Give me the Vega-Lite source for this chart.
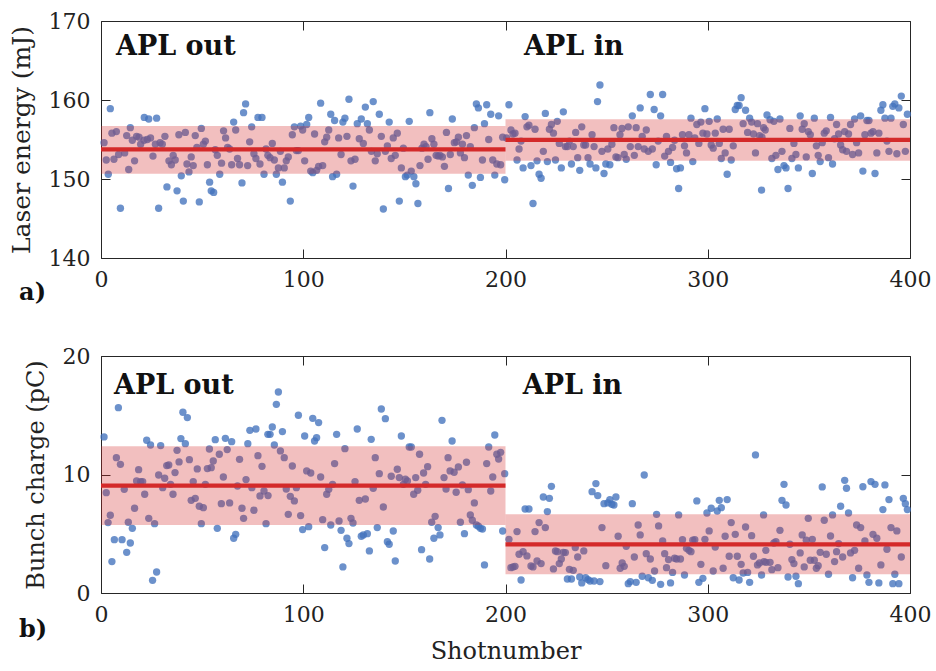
{
"$schema":"https://vega.github.io/schema/vega-lite/v6.json",
"background":"white",
"padding":{"left":8,"top":9,"right":5,"bottom":3},
"config":{
 "font":"DejaVu Serif",
 "view":{"stroke":"#262626","strokeWidth":1},
 "axis":{"grid":false,"domain":false,"tickSize":-9,"tickColor":"#262626","tickWidth":1,"labelFontSize":22,"labelColor":"#222222","titleFontSize":24,"titleFontWeight":"normal","titleColor":"#222222","labelPadding":20,"labelFlush":false,"labelOverlap":false,"zindex":1},
 "axisY":{"titlePadding":14},
 "axisX":{"titlePadding":14}
},
"datasets":{
 "energy":[
{"shot":1.5,"mJ":154.6},{"shot":2.6,"mJ":152.4},{"shot":3.6,"mJ":150.6},{"shot":4.6,"mJ":158.9},{"shot":5.4,"mJ":155.8},{"shot":6.4,"mJ":152.5},{"shot":7.6,"mJ":156.0},{"shot":8.7,"mJ":153.1},{"shot":9.6,"mJ":146.3},{"shot":11.7,"mJ":153.3},{"shot":12.7,"mJ":155.5},{"shot":13.7,"mJ":151.2},{"shot":14.5,"mJ":156.5},{"shot":15.5,"mJ":154.9},{"shot":16.6,"mJ":152.3},{"shot":17.6,"mJ":155.4},{"shot":18.8,"mJ":155.3},{"shot":19.6,"mJ":154.4},{"shot":21.3,"mJ":154.9},{"shot":21.4,"mJ":157.8},{"shot":22.9,"mJ":155.0},{"shot":23.6,"mJ":157.6},{"shot":24.5,"mJ":155.2},{"shot":25.7,"mJ":152.9},{"shot":26.9,"mJ":154.4},{"shot":27.5,"mJ":157.7},{"shot":28.5,"mJ":146.3},{"shot":29.2,"mJ":154.6},{"shot":30.3,"mJ":154.4},{"shot":31.6,"mJ":155.4},{"shot":32.6,"mJ":149.0},{"shot":33.6,"mJ":152.3},{"shot":34.8,"mJ":151.8},{"shot":35.7,"mJ":153.0},{"shot":36.7,"mJ":152.4},{"shot":37.6,"mJ":148.5},{"shot":38.5,"mJ":155.6},{"shot":39.7,"mJ":150.4},{"shot":40.7,"mJ":147.2},{"shot":41.7,"mJ":155.9},{"shot":42.5,"mJ":151.9},{"shot":43.5,"mJ":150.9},{"shot":44.6,"mJ":152.8},{"shot":45.6,"mJ":151.7},{"shot":46.6,"mJ":155.5},{"shot":47.4,"mJ":154.0},{"shot":48.6,"mJ":147.1},{"shot":49.6,"mJ":156.4},{"shot":50.6,"mJ":154.4},{"shot":51.6,"mJ":154.8},{"shot":52.6,"mJ":151.8},{"shot":53.7,"mJ":149.6},{"shot":54.5,"mJ":148.5},{"shot":55.7,"mJ":148.3},{"shot":56.5,"mJ":153.7},{"shot":57.5,"mJ":153.0},{"shot":58.7,"mJ":150.6},{"shot":59.6,"mJ":152.0},{"shot":60.6,"mJ":156.1},{"shot":61.6,"mJ":155.2},{"shot":62.6,"mJ":154.0},{"shot":63.6,"mJ":153.8},{"shot":64.6,"mJ":151.8},{"shot":65.6,"mJ":157.2},{"shot":66.6,"mJ":156.2},{"shot":67.5,"mJ":152.6},{"shot":68.5,"mJ":151.8},{"shot":69.7,"mJ":149.5},{"shot":70.5,"mJ":158.4},{"shot":71.5,"mJ":159.5},{"shot":72.5,"mJ":151.7},{"shot":73.5,"mJ":154.7},{"shot":74.5,"mJ":156.6},{"shot":75.6,"mJ":153.2},{"shot":76.6,"mJ":152.6},{"shot":77.6,"mJ":157.8},{"shot":78.6,"mJ":151.9},{"shot":79.6,"mJ":157.8},{"shot":80.6,"mJ":150.6},{"shot":81.6,"mJ":153.8},{"shot":82.5,"mJ":153.0},
{"shot":83.6,"mJ":152.7},{"shot":84.7,"mJ":154.5},{"shot":85.7,"mJ":152.4},{"shot":86.7,"mJ":150.6},{"shot":87.7,"mJ":151.4},{"shot":88.7,"mJ":153.5},{"shot":89.7,"mJ":149.6},{"shot":90.6,"mJ":151.4},{"shot":91.6,"mJ":152.3},{"shot":92.6,"mJ":152.8},{"shot":93.6,"mJ":147.2},{"shot":94.6,"mJ":155.6},{"shot":95.6,"mJ":156.6},{"shot":96.6,"mJ":153.6},{"shot":97.6,"mJ":153.6},{"shot":98.7,"mJ":156.7},{"shot":99.7,"mJ":156.2},{"shot":100.7,"mJ":152.3},{"shot":101.7,"mJ":156.9},{"shot":102.7,"mJ":157.8},{"shot":103.7,"mJ":151.0},{"shot":104.7,"mJ":150.8},{"shot":105.6,"mJ":155.7},{"shot":106.6,"mJ":151.1},{"shot":107.6,"mJ":151.6},{"shot":108.6,"mJ":159.6},{"shot":109.6,"mJ":151.7},{"shot":110.6,"mJ":154.7},{"shot":111.6,"mJ":155.3},{"shot":112.6,"mJ":156.2},{"shot":113.6,"mJ":158.2},{"shot":114.5,"mJ":150.3},{"shot":115.5,"mJ":157.4},{"shot":116.5,"mJ":150.6},{"shot":117.5,"mJ":155.2},{"shot":118.7,"mJ":153.1},{"shot":119.6,"mJ":157.2},{"shot":120.6,"mJ":157.7},{"shot":121.6,"mJ":155.4},{"shot":122.6,"mJ":160.1},{"shot":123.6,"mJ":152.3},{"shot":124.6,"mJ":149.1},{"shot":125.6,"mJ":152.5},{"shot":126.7,"mJ":157.0},{"shot":127.7,"mJ":155.1},{"shot":128.7,"mJ":157.6},{"shot":129.7,"mJ":154.5},{"shot":130.7,"mJ":159.1},{"shot":131.7,"mJ":157.0},{"shot":132.7,"mJ":156.2},{"shot":133.7,"mJ":153.5},{"shot":134.6,"mJ":159.8},{"shot":135.6,"mJ":152.3},{"shot":136.6,"mJ":153.2},{"shot":137.6,"mJ":158.2},{"shot":138.6,"mJ":155.4},{"shot":139.6,"mJ":146.2},{"shot":140.6,"mJ":153.5},{"shot":141.6,"mJ":154.2},{"shot":142.5,"mJ":157.2},{"shot":143.5,"mJ":152.6},{"shot":144.5,"mJ":155.2},{"shot":145.5,"mJ":153.0},{"shot":146.5,"mJ":155.8},{"shot":147.5,"mJ":147.2},{"shot":148.5,"mJ":151.4},{"shot":149.5,"mJ":153.9},{"shot":150.5,"mJ":150.3},{"shot":151.4,"mJ":150.5},{"shot":152.4,"mJ":157.3},{"shot":153.4,"mJ":151.0},{"shot":154.7,"mJ":150.3},{"shot":155.7,"mJ":149.4},{"shot":156.7,"mJ":146.9},{"shot":157.7,"mJ":151.7},{"shot":158.7,"mJ":153.9},{"shot":159.7,"mJ":154.4},{"shot":160.7,"mJ":154.1},{"shot":161.7,"mJ":152.5},{"shot":162.6,"mJ":158.4},{"shot":163.6,"mJ":155.1},
{"shot":164.6,"mJ":154.4},{"shot":165.7,"mJ":153.0},{"shot":166.7,"mJ":152.9},{"shot":167.6,"mJ":153.0},{"shot":168.8,"mJ":152.8},{"shot":169.8,"mJ":151.6},{"shot":170.8,"mJ":155.9},{"shot":171.8,"mJ":148.8},{"shot":172.7,"mJ":153.1},{"shot":173.7,"mJ":157.6},{"shot":174.7,"mJ":154.6},{"shot":175.7,"mJ":154.7},{"shot":176.7,"mJ":155.3},{"shot":177.7,"mJ":153.3},{"shot":178.7,"mJ":154.4},{"shot":179.7,"mJ":152.7},{"shot":180.7,"mJ":155.5},{"shot":181.6,"mJ":150.5},{"shot":182.6,"mJ":154.1},{"shot":183.6,"mJ":149.2},{"shot":184.6,"mJ":156.5},{"shot":185.6,"mJ":159.5},{"shot":186.6,"mJ":159.0},{"shot":187.6,"mJ":150.2},{"shot":188.6,"mJ":152.4},{"shot":189.6,"mJ":157.0},{"shot":190.7,"mJ":159.4},{"shot":191.7,"mJ":155.0},{"shot":192.7,"mJ":158.2},{"shot":193.7,"mJ":152.4},{"shot":194.7,"mJ":150.5},{"shot":195.7,"mJ":151.9},{"shot":196.6,"mJ":158.0},{"shot":197.6,"mJ":151.8},{"shot":198.6,"mJ":155.3},{"shot":199.6,"mJ":149.9},
{"shot":200.6,"mJ":155.2},{"shot":201.7,"mJ":159.4},{"shot":202.7,"mJ":156.2},{"shot":203.7,"mJ":155.7},{"shot":204.7,"mJ":155.8},{"shot":205.7,"mJ":152.4},{"shot":206.7,"mJ":153.8},{"shot":207.7,"mJ":154.8},{"shot":208.7,"mJ":151.4},{"shot":209.7,"mJ":157.9},{"shot":210.6,"mJ":156.6},{"shot":211.6,"mJ":156.8},{"shot":212.6,"mJ":151.7},{"shot":213.6,"mJ":146.9},{"shot":214.6,"mJ":156.3},{"shot":215.6,"mJ":152.3},{"shot":216.6,"mJ":150.6},{"shot":217.6,"mJ":150.1},{"shot":218.7,"mJ":153.5},{"shot":219.7,"mJ":158.3},{"shot":220.7,"mJ":152.2},{"shot":221.7,"mJ":156.3},{"shot":222.7,"mJ":156.9},{"shot":223.7,"mJ":155.8},{"shot":224.7,"mJ":152.4},{"shot":225.6,"mJ":157.3},{"shot":226.6,"mJ":154.5},{"shot":227.6,"mJ":151.4},{"shot":228.6,"mJ":158.5},{"shot":229.6,"mJ":154.1},{"shot":230.6,"mJ":154.1},{"shot":231.6,"mJ":154.8},{"shot":232.6,"mJ":151.9},{"shot":233.5,"mJ":154.1},{"shot":234.7,"mJ":155.9},{"shot":235.7,"mJ":152.7},{"shot":236.7,"mJ":151.1},{"shot":237.7,"mJ":156.6},{"shot":238.7,"mJ":154.3},{"shot":239.6,"mJ":154.3},{"shot":240.8,"mJ":152.7},{"shot":241.8,"mJ":151.9},{"shot":242.8,"mJ":155.6},{"shot":243.8,"mJ":154.1},{"shot":244.7,"mJ":151.4},{"shot":245.5,"mJ":159.8},{"shot":246.7,"mJ":161.9},{"shot":247.7,"mJ":153.5},{"shot":248.7,"mJ":150.7},{"shot":249.6,"mJ":151.9},{"shot":250.6,"mJ":153.8},{"shot":251.6,"mJ":151.8},{"shot":252.6,"mJ":154.4},{"shot":253.6,"mJ":156.5},{"shot":254.6,"mJ":152.8},{"shot":255.6,"mJ":152.7},{"shot":256.6,"mJ":155.6},{"shot":257.6,"mJ":156.4},{"shot":258.7,"mJ":153.1},{"shot":259.7,"mJ":152.5},{"shot":260.7,"mJ":156.6},{"shot":261.7,"mJ":154.1},{"shot":262.7,"mJ":158.0},{"shot":263.7,"mJ":153.0},{"shot":264.6,"mJ":156.5},{"shot":265.6,"mJ":154.1},{"shot":266.6,"mJ":159.0},{"shot":267.6,"mJ":155.4},{"shot":268.6,"mJ":153.8},{"shot":269.6,"mJ":156.2},{"shot":270.6,"mJ":153.5},{"shot":271.6,"mJ":160.7},{"shot":272.6,"mJ":153.8},{"shot":273.5,"mJ":158.8},{"shot":274.5,"mJ":151.8},{"shot":275.5,"mJ":154.8},{"shot":276.7,"mJ":158.0},{"shot":277.7,"mJ":160.7},{"shot":278.7,"mJ":152.9},{"shot":279.6,"mJ":155.4},{"shot":280.6,"mJ":153.5},{"shot":281.6,"mJ":152.1},{"shot":282.6,"mJ":154.0},{"shot":283.6,"mJ":154.9},{"shot":284.6,"mJ":151.3},{"shot":285.6,"mJ":148.8},{"shot":286.5,"mJ":151.4},{"shot":287.5,"mJ":155.6},{"shot":288.5,"mJ":154.2},{"shot":289.5,"mJ":153.3},{"shot":290.7,"mJ":155.6},{"shot":291.7,"mJ":157.7},{"shot":292.6,"mJ":152.2},{"shot":293.6,"mJ":155.2},{"shot":294.6,"mJ":156.9},{"shot":295.6,"mJ":154.5},{"shot":296.6,"mJ":157.2},{"shot":297.6,"mJ":155.8},{"shot":298.6,"mJ":158.9},{"shot":299.6,"mJ":155.7},{"shot":300.7,"mJ":157.3},{"shot":301.7,"mJ":154.3},{"shot":302.7,"mJ":153.9},{"shot":303.7,"mJ":155.8},{"shot":304.7,"mJ":157.6},{"shot":305.7,"mJ":154.5},{"shot":306.7,"mJ":152.6},{"shot":307.6,"mJ":156.3},{"shot":308.6,"mJ":153.3},{"shot":309.6,"mJ":150.6},{"shot":310.6,"mJ":156.3},{"shot":311.6,"mJ":152.4},{"shot":312.6,"mJ":154.2},{"shot":313.6,"mJ":158.8},{"shot":314.6,"mJ":159.3},{"shot":315.5,"mJ":159.3},{"shot":316.5,"mJ":160.3},{"shot":317.5,"mJ":157.0},{"shot":318.7,"mJ":158.7},{"shot":319.7,"mJ":155.9},{"shot":320.7,"mJ":157.7},{"shot":321.7,"mJ":157.2},{"shot":322.6,"mJ":155.7},{"shot":323.6,"mJ":153.3},{"shot":324.6,"mJ":157.0},{"shot":325.6,"mJ":155.5},{"shot":326.6,"mJ":148.6},{"shot":326.8,"mJ":155.3},{"shot":327.6,"mJ":156.5},{"shot":328.4,"mJ":156.2},{"shot":329.3,"mJ":158.1},
{"shot":330.8,"mJ":157.5},{"shot":331.7,"mJ":152.6},{"shot":332.7,"mJ":157.3},{"shot":333.7,"mJ":153.0},{"shot":334.7,"mJ":151.2},{"shot":335.7,"mJ":157.6},{"shot":336.7,"mJ":153.5},{"shot":337.7,"mJ":151.7},{"shot":338.7,"mJ":151.4},{"shot":339.7,"mJ":148.8},{"shot":340.6,"mJ":156.4},{"shot":341.6,"mJ":152.6},{"shot":342.6,"mJ":154.5},{"shot":343.6,"mJ":153.1},{"shot":344.8,"mJ":151.4},{"shot":345.7,"mJ":158.0},{"shot":346.7,"mJ":156.3},{"shot":347.7,"mJ":157.0},{"shot":348.7,"mJ":152.8},{"shot":349.7,"mJ":156.0},{"shot":350.7,"mJ":155.6},{"shot":351.7,"mJ":150.7},{"shot":352.7,"mJ":157.7},{"shot":353.7,"mJ":154.2},{"shot":354.6,"mJ":153.0},{"shot":355.6,"mJ":152.2},{"shot":356.6,"mJ":154.6},{"shot":357.6,"mJ":155.8},{"shot":358.6,"mJ":156.1},{"shot":359.7,"mJ":152.7},{"shot":360.7,"mJ":157.8},{"shot":361.7,"mJ":151.9},{"shot":362.7,"mJ":155.1},{"shot":363.7,"mJ":156.9},{"shot":364.7,"mJ":155.7},{"shot":365.7,"mJ":154.3},{"shot":366.7,"mJ":153.7},{"shot":367.7,"mJ":156.0},{"shot":368.6,"mJ":153.5},{"shot":369.6,"mJ":155.7},{"shot":370.6,"mJ":156.9},{"shot":371.6,"mJ":153.1},{"shot":372.6,"mJ":157.6},{"shot":373.6,"mJ":154.6},{"shot":374.6,"mJ":153.3},{"shot":375.6,"mJ":158.0},{"shot":376.7,"mJ":151.0},{"shot":377.7,"mJ":155.6},{"shot":378.7,"mJ":157.4},{"shot":379.7,"mJ":157.4},{"shot":380.7,"mJ":155.8},{"shot":381.7,"mJ":156.0},{"shot":382.7,"mJ":150.7},{"shot":383.6,"mJ":153.3},{"shot":384.6,"mJ":155.8},{"shot":385.6,"mJ":158.7},{"shot":386.6,"mJ":159.4},{"shot":387.6,"mJ":157.7},{"shot":388.6,"mJ":154.8},{"shot":389.6,"mJ":153.5},{"shot":390.6,"mJ":157.7},{"shot":391.5,"mJ":159.2},{"shot":392.5,"mJ":159.5},{"shot":393.5,"mJ":153.2},{"shot":394.5,"mJ":159.0},{"shot":395.7,"mJ":160.5},{"shot":396.7,"mJ":156.9},{"shot":397.7,"mJ":153.5},{"shot":398.7,"mJ":158.2}
 ],
 "charge":[
{"shot":1.5,"pC":13.17},{"shot":2.6,"pC":8.47},{"shot":3.5,"pC":5.94},{"shot":4.6,"pC":6.56},{"shot":5.4,"pC":2.65},{"shot":6.6,"pC":4.5},{"shot":7.6,"pC":11.42},{"shot":8.6,"pC":15.64},{"shot":9.6,"pC":10.86},{"shot":10.4,"pC":4.5},{"shot":11.5,"pC":8.75},{"shot":12.7,"pC":3.43},{"shot":13.5,"pC":5.97},{"shot":14.5,"pC":4.22},{"shot":15.5,"pC":5.46},{"shot":16.6,"pC":7.15},{"shot":17.6,"pC":9.46},{"shot":18.6,"pC":10.41},{"shot":19.6,"pC":9.4},{"shot":20.6,"pC":9.4},{"shot":21.6,"pC":8.33},{"shot":22.6,"pC":12.89},{"shot":23.6,"pC":6.3},{"shot":24.5,"pC":12.49},{"shot":25.5,"pC":1.07},{"shot":26.5,"pC":5.85},{"shot":27.5,"pC":1.77},{"shot":28.5,"pC":9.96},{"shot":29.5,"pC":12.44},{"shot":30.5,"pC":8.89},{"shot":31.5,"pC":9.68},{"shot":32.5,"pC":10.75},{"shot":33.5,"pC":10.8},{"shot":34.4,"pC":9.17},{"shot":35.6,"pC":8.33},{"shot":36.6,"pC":10.16},{"shot":37.6,"pC":12.04},{"shot":38.6,"pC":11.06},{"shot":39.5,"pC":13.03},{"shot":40.5,"pC":15.25},{"shot":41.7,"pC":12.6},{"shot":42.7,"pC":14.8},{"shot":43.7,"pC":11.25},{"shot":44.6,"pC":7.82},{"shot":45.6,"pC":9.4},{"shot":46.6,"pC":7.99},{"shot":47.6,"pC":10.47},{"shot":48.6,"pC":7.32},{"shot":49.6,"pC":5.85},{"shot":50.6,"pC":7.2},{"shot":51.6,"pC":9.17},{"shot":52.6,"pC":10.5},{"shot":53.6,"pC":12.15},{"shot":54.5,"pC":10.58},{"shot":55.5,"pC":11.14},{"shot":56.5,"pC":12.94},{"shot":57.5,"pC":5.46},{"shot":58.5,"pC":11.71},{"shot":59.5,"pC":7.54},{"shot":60.5,"pC":9.79},{"shot":61.5,"pC":13.05},{"shot":62.4,"pC":12.1},{"shot":63.6,"pC":7.6},{"shot":64.6,"pC":12.77},{"shot":65.6,"pC":4.62},{"shot":66.6,"pC":4.95},{"shot":67.5,"pC":9.03},{"shot":68.5,"pC":11.28},{"shot":69.7,"pC":7.15},{"shot":70.5,"pC":6.3},{"shot":71.7,"pC":9.57},{"shot":72.6,"pC":12.6},{"shot":73.6,"pC":13.73},{"shot":74.6,"pC":8.89},{"shot":75.6,"pC":6.98},{"shot":76.6,"pC":13.84},{"shot":77.6,"pC":11.59},{"shot":78.6,"pC":8.19},{"shot":79.6,"pC":10.69},{"shot":80.6,"pC":8.61},{"shot":81.6,"pC":5.85},{"shot":82.5,"pC":13.39},
{"shot":82.6,"pC":8.22},{"shot":83.6,"pC":13.39},{"shot":84.7,"pC":14.01},{"shot":85.7,"pC":12.49},{"shot":86.7,"pC":15.92},{"shot":87.7,"pC":16.96},{"shot":88.7,"pC":11.99},{"shot":89.7,"pC":13.62},{"shot":90.6,"pC":11.42},{"shot":91.6,"pC":8.78},{"shot":92.6,"pC":6.64},{"shot":93.6,"pC":8.16},{"shot":94.6,"pC":10.72},{"shot":95.6,"pC":7.77},{"shot":96.6,"pC":8.89},{"shot":97.6,"pC":15.0},{"shot":98.7,"pC":6.53},{"shot":99.7,"pC":5.35},{"shot":100.7,"pC":13.25},{"shot":101.7,"pC":10.3},{"shot":102.7,"pC":5.6},{"shot":103.7,"pC":10.13},{"shot":104.7,"pC":14.74},{"shot":105.6,"pC":12.83},{"shot":106.6,"pC":13.11},{"shot":107.6,"pC":14.38},{"shot":108.6,"pC":9.79},{"shot":109.6,"pC":6.19},{"shot":110.6,"pC":3.83},{"shot":111.6,"pC":8.33},{"shot":112.6,"pC":8.75},{"shot":113.6,"pC":5.74},{"shot":114.5,"pC":9.17},{"shot":115.5,"pC":10.92},{"shot":116.5,"pC":13.39},{"shot":117.7,"pC":6.08},{"shot":118.7,"pC":5.29},{"shot":119.6,"pC":2.2},{"shot":120.6,"pC":12.18},{"shot":121.6,"pC":4.62},{"shot":122.6,"pC":4.17},{"shot":123.6,"pC":6.3},{"shot":124.6,"pC":5.91},{"shot":125.6,"pC":9.4},{"shot":126.7,"pC":13.84},{"shot":127.7,"pC":7.82},{"shot":128.7,"pC":4.79},{"shot":129.7,"pC":4.9},{"shot":130.7,"pC":7.93},{"shot":131.7,"pC":5.01},{"shot":132.7,"pC":3.55},{"shot":133.6,"pC":12.97},{"shot":134.6,"pC":8.84},{"shot":135.6,"pC":11.42},{"shot":136.6,"pC":5.52},{"shot":137.6,"pC":10.07},{"shot":138.6,"pC":15.53},{"shot":139.6,"pC":7.26},{"shot":140.6,"pC":14.71},{"shot":141.6,"pC":4.33},{"shot":142.5,"pC":4.11},{"shot":143.5,"pC":9.85},{"shot":144.5,"pC":5.23},{"shot":145.5,"pC":2.7},{"shot":146.5,"pC":10.44},{"shot":147.5,"pC":9.74},{"shot":148.5,"pC":13.25},{"shot":149.5,"pC":9.17},{"shot":150.5,"pC":9.6},{"shot":151.5,"pC":9.46},{"shot":152.4,"pC":12.32},{"shot":153.4,"pC":12.32},{"shot":154.6,"pC":8.33},{"shot":155.6,"pC":9.74},{"shot":156.6,"pC":8.67},{"shot":157.5,"pC":11.71},{"shot":158.5,"pC":3.66},{"shot":159.5,"pC":10.13},{"shot":160.5,"pC":9.17},{"shot":161.5,"pC":10.66},{"shot":162.5,"pC":2.87},{"shot":163.5,"pC":5.97},{"shot":164.6,"pC":4.62},
{"shot":165.2,"pC":6.47},{"shot":166.7,"pC":5.52},{"shot":167.6,"pC":4.9},{"shot":168.6,"pC":14.57},{"shot":169.6,"pC":9.74},{"shot":170.6,"pC":8.78},{"shot":171.6,"pC":11.42},{"shot":172.6,"pC":10.3},{"shot":173.6,"pC":12.83},{"shot":174.6,"pC":10.19},{"shot":175.6,"pC":8.5},{"shot":176.7,"pC":10.64},{"shot":177.7,"pC":5.97},{"shot":178.7,"pC":9.12},{"shot":179.7,"pC":5.01},{"shot":180.7,"pC":11.03},{"shot":181.6,"pC":8.72},{"shot":182.6,"pC":6.59},{"shot":183.6,"pC":6.14},{"shot":184.6,"pC":7.6},{"shot":185.6,"pC":5.74},{"shot":186.6,"pC":5.63},{"shot":187.6,"pC":5.46},{"shot":188.6,"pC":5.4},{"shot":189.6,"pC":2.37},{"shot":190.7,"pC":10.92},{"shot":191.7,"pC":12.32},{"shot":192.7,"pC":8.61},{"shot":193.7,"pC":9.79},{"shot":194.7,"pC":13.33},{"shot":195.7,"pC":11.71},{"shot":196.6,"pC":11.31},{"shot":197.6,"pC":11.87},{"shot":198.6,"pC":5.23},{"shot":199.6,"pC":10.07},
{"shot":201.7,"pC":4.53},{"shot":202.7,"pC":2.14},{"shot":203.7,"pC":2.2},{"shot":204.7,"pC":2.25},{"shot":205.7,"pC":5.18},{"shot":206.7,"pC":3.27},{"shot":207.7,"pC":1.1},{"shot":208.7,"pC":3.49},{"shot":209.7,"pC":7.09},{"shot":210.6,"pC":3.13},{"shot":211.6,"pC":7.09},{"shot":212.6,"pC":2.28},{"shot":213.6,"pC":2.2},{"shot":214.6,"pC":5.18},{"shot":215.6,"pC":2.7},{"shot":216.6,"pC":5.94},{"shot":217.6,"pC":2.48},{"shot":218.7,"pC":8.1},{"shot":219.7,"pC":5.52},{"shot":220.7,"pC":6.87},{"shot":221.7,"pC":7.99},{"shot":222.7,"pC":9.0},{"shot":223.7,"pC":2.03},{"shot":224.7,"pC":3.55},{"shot":225.6,"pC":3.49},{"shot":226.6,"pC":2.48},{"shot":227.6,"pC":2.87},{"shot":228.6,"pC":3.43},{"shot":229.6,"pC":3.41},{"shot":230.6,"pC":1.18},{"shot":231.6,"pC":2.0},{"shot":232.6,"pC":1.18},{"shot":233.5,"pC":1.91},{"shot":234.5,"pC":3.83},{"shot":235.7,"pC":3.04},{"shot":236.7,"pC":1.35},{"shot":237.7,"pC":0.85},{"shot":238.7,"pC":3.55},{"shot":239.6,"pC":1.29},{"shot":240.8,"pC":1.13},{"shot":241.8,"pC":1.01},{"shot":242.8,"pC":8.55},{"shot":243.8,"pC":1.01},{"shot":244.7,"pC":9.23},{"shot":245.6,"pC":8.22},
{"shot":246.7,"pC":0.96},{"shot":247.7,"pC":5.52},{"shot":248.7,"pC":7.54},{"shot":249.6,"pC":2.31},{"shot":250.6,"pC":7.6},{"shot":251.6,"pC":7.88},{"shot":252.6,"pC":7.49},{"shot":253.6,"pC":7.43},{"shot":254.6,"pC":8.1},{"shot":255.7,"pC":4.79},{"shot":256.7,"pC":2.09},{"shot":257.7,"pC":2.54},{"shot":258.7,"pC":2.25},{"shot":259.7,"pC":3.94},{"shot":260.7,"pC":0.79},{"shot":261.7,"pC":0.96},{"shot":262.7,"pC":7.54},{"shot":263.7,"pC":3.04},{"shot":264.6,"pC":0.9},{"shot":265.6,"pC":5.74},{"shot":266.6,"pC":4.9},{"shot":267.6,"pC":1.41},{"shot":268.6,"pC":9.96},{"shot":269.6,"pC":3.32},{"shot":270.6,"pC":1.29},{"shot":271.6,"pC":2.87},{"shot":272.6,"pC":1.07},{"shot":273.7,"pC":1.86},{"shot":274.7,"pC":6.64},{"shot":275.7,"pC":5.66},{"shot":276.7,"pC":0.73},{"shot":277.7,"pC":4.39},{"shot":278.7,"pC":3.32},{"shot":279.6,"pC":2.14},{"shot":280.6,"pC":2.82},{"shot":281.6,"pC":0.85},{"shot":282.6,"pC":1.74},{"shot":283.6,"pC":2.93},{"shot":284.6,"pC":2.87},{"shot":285.6,"pC":6.59},{"shot":286.5,"pC":2.87},{"shot":287.5,"pC":4.5},{"shot":288.5,"pC":1.52},{"shot":289.5,"pC":3.77},{"shot":290.7,"pC":3.6},{"shot":291.7,"pC":3.49},{"shot":292.6,"pC":4.45},{"shot":293.6,"pC":4.5},{"shot":294.6,"pC":7.77},{"shot":295.6,"pC":0.9},{"shot":296.6,"pC":2.42},{"shot":297.6,"pC":1.24},{"shot":298.6,"pC":4.53},{"shot":299.6,"pC":6.75},{"shot":300.7,"pC":5.24},{"shot":301.7,"pC":7.15},{"shot":302.7,"pC":1.86},{"shot":303.7,"pC":3.88},{"shot":304.7,"pC":6.92},{"shot":305.7,"pC":7.82},{"shot":306.7,"pC":7.2},{"shot":307.6,"pC":2.09},{"shot":308.6,"pC":4.79},{"shot":309.6,"pC":7.88},{"shot":310.6,"pC":3.1},{"shot":311.6,"pC":5.94},{"shot":312.6,"pC":1.29},{"shot":313.6,"pC":4.95},{"shot":314.6,"pC":3.1},{"shot":315.5,"pC":1.1},{"shot":316.5,"pC":2.42},{"shot":317.5,"pC":1.69},{"shot":318.7,"pC":5.57},{"shot":319.7,"pC":1.74},{"shot":320.7,"pC":0.9},{"shot":321.7,"pC":4.84},{"shot":322.6,"pC":3.1},{"shot":323.6,"pC":11.65},{"shot":324.6,"pC":2.37},{"shot":325.6,"pC":2.54},{"shot":326.6,"pC":1.52},{"shot":327.6,"pC":6.59},{"shot":328.7,"pC":3.6},
{"shot":327.8,"pC":2.65},{"shot":328.8,"pC":2.59},{"shot":330.8,"pC":2.59},{"shot":331.7,"pC":1.97},{"shot":332.7,"pC":4.22},{"shot":333.7,"pC":4.33},{"shot":334.7,"pC":2.14},{"shot":335.7,"pC":5.29},{"shot":336.7,"pC":7.82},{"shot":337.7,"pC":9.17},{"shot":338.7,"pC":7.43},{"shot":339.7,"pC":1.35},{"shot":340.6,"pC":4.11},{"shot":341.6,"pC":2.82},{"shot":342.6,"pC":2.48},{"shot":343.6,"pC":1.41},{"shot":344.8,"pC":0.79},{"shot":345.7,"pC":3.38},{"shot":346.7,"pC":4.9},{"shot":347.7,"pC":2.2},{"shot":348.7,"pC":4.45},{"shot":349.7,"pC":6.3},{"shot":350.7,"pC":2.76},{"shot":351.7,"pC":4.53},{"shot":352.7,"pC":2.76},{"shot":353.7,"pC":2.09},{"shot":354.6,"pC":2.31},{"shot":355.6,"pC":3.43},{"shot":356.6,"pC":8.95},{"shot":357.6,"pC":6.14},{"shot":358.6,"pC":3.27},{"shot":359.7,"pC":1.58},{"shot":360.7,"pC":4.81},{"shot":361.7,"pC":6.59},{"shot":362.7,"pC":2.65},{"shot":363.7,"pC":3.49},{"shot":364.7,"pC":4.17},{"shot":365.7,"pC":7.32},{"shot":366.7,"pC":3.04},{"shot":367.7,"pC":9.51},{"shot":368.6,"pC":8.84},{"shot":369.6,"pC":6.75},{"shot":370.6,"pC":3.38},{"shot":371.6,"pC":1.29},{"shot":372.6,"pC":3.6},{"shot":373.6,"pC":5.74},{"shot":374.6,"pC":2.09},{"shot":375.6,"pC":5.52},{"shot":376.7,"pC":8.97},{"shot":377.7,"pC":4.39},{"shot":378.7,"pC":1.52},{"shot":379.7,"pC":0.9},{"shot":380.7,"pC":9.4},{"shot":381.7,"pC":4.95},{"shot":382.7,"pC":9.17},{"shot":383.6,"pC":4.62},{"shot":384.6,"pC":0.85},{"shot":385.6,"pC":2.37},{"shot":386.6,"pC":7.04},{"shot":387.6,"pC":9.12},{"shot":388.6,"pC":3.69},{"shot":389.6,"pC":7.88},{"shot":390.6,"pC":5.52},{"shot":391.5,"pC":0.79},{"shot":392.5,"pC":1.58},{"shot":393.5,"pC":5.24},{"shot":394.5,"pC":0.79},{"shot":395.7,"pC":3.04},{"shot":396.7,"pC":7.99},{"shot":397.7,"pC":7.54},{"shot":398.7,"pC":7.04}
 ],
 "statsE":[{"x0":0,"x1":200,"mean":153.75,"lo":150.65,"hi":156.7},{"x0":200,"x1":400,"mean":154.95,"lo":152.3,"hi":157.55}],
 "statsQ":[{"x0":0,"x1":200,"mean":9.06,"lo":5.74,"hi":12.38},{"x0":200,"x1":400,"mean":4.1,"lo":1.58,"hi":6.64}],
 "labelsE":[{"text":"APL out","x":7.4,"y":165.7},{"text":"APL in","x":209.2,"y":165.7}],
 "labelsQ":[{"text":"APL out","x":6.4,"y":16.77},{"text":"APL in","x":208.5,"y":16.77}],
 "tagE":[{"text":"a)","x":-40.5,"y":134.65}],
 "tagQ":[{"text":"b)","x":-40.5,"y":-3.74}]
},
"spacing":98,
"bounds":"flush",
"vconcat":[
 {
  "width":809,"height":237,
  "resolve":{"axis":{"x":"independent","y":"independent"}},
  "layer":[
   {"data":{"name":"energy"},"mark":{"type":"circle","size":54,"color":"#4272bd","opacity":0.78},
    "encoding":{
     "x":{"field":"shot","type":"quantitative","scale":{"domain":[0,400],"nice":false},"axis":{"orient":"bottom","values":[0,100,200,300,400],"title":null}},
     "y":{"field":"mJ","type":"quantitative","scale":{"domain":[140,170],"nice":false},"axis":{"orient":"left","values":[140,150,160,170],"title":"Laser energy (mJ)","titleFontSize":25}}}},
   {"data":{"name":"statsE"},"mark":{"type":"rect","color":"#d42a2a","opacity":0.3},
    "encoding":{
     "x":{"field":"x0","type":"quantitative","scale":{"domain":[0,400],"nice":false},"axis":{"orient":"top","values":[0,100,200,300,400],"labels":false,"title":null}},
     "x2":{"field":"x1"},
     "y":{"field":"lo","type":"quantitative","scale":{"domain":[140,170],"nice":false},"axis":{"orient":"right","values":[140,150,160,170],"labels":false,"title":null}},
     "y2":{"field":"hi"}}},
   {"data":{"name":"statsE"},"mark":{"type":"rule","color":"#d42a2a","strokeWidth":4.2},
    "encoding":{
     "x":{"field":"x0","type":"quantitative","scale":{"domain":[0,400],"nice":false},"axis":null},
     "x2":{"field":"x1"},
     "y":{"field":"mean","type":"quantitative","scale":{"domain":[140,170],"nice":false},"axis":null}}},
   {"mark":{"type":"rule","color":"#262626","strokeWidth":1},
    "encoding":{"x":{"datum":200,"type":"quantitative","scale":{"domain":[0,400],"nice":false},"axis":null}}},
   {"data":{"name":"labelsE"},"mark":{"type":"text","font":"DejaVu Serif","fontWeight":"bold","fontSize":27,"align":"left","baseline":"alphabetic","color":"#111111"},
    "encoding":{
     "x":{"field":"x","type":"quantitative","scale":{"domain":[0,400],"nice":false},"axis":null},
     "y":{"field":"y","type":"quantitative","scale":{"domain":[140,170],"nice":false},"axis":null},
     "text":{"field":"text"}}},
   {"data":{"name":"tagE"},"mark":{"type":"text","clip":false,"font":"DejaVu Serif","fontWeight":"bold","fontSize":24,"align":"left","baseline":"alphabetic","color":"#111111"},
    "encoding":{
     "x":{"field":"x","type":"quantitative","scale":{"domain":[0,400],"nice":false},"axis":null},
     "y":{"field":"y","type":"quantitative","scale":{"domain":[140,170],"nice":false},"axis":null},
     "text":{"field":"text"}}}
  ]
 },
 {
  "width":809,"height":237,
  "resolve":{"axis":{"x":"independent","y":"independent"}},
  "layer":[
   {"data":{"name":"charge"},"mark":{"type":"circle","size":54,"color":"#4272bd","opacity":0.78},
    "encoding":{
     "x":{"field":"shot","type":"quantitative","scale":{"domain":[0,400],"nice":false},"axis":{"orient":"bottom","values":[0,100,200,300,400],"title":"Shotnumber"}},
     "y":{"field":"pC","type":"quantitative","scale":{"domain":[0,20],"nice":false},"axis":{"orient":"left","values":[0,10,20],"title":"Bunch charge (pC)"}}}},
   {"data":{"name":"statsQ"},"mark":{"type":"rect","color":"#d42a2a","opacity":0.3},
    "encoding":{
     "x":{"field":"x0","type":"quantitative","scale":{"domain":[0,400],"nice":false},"axis":{"orient":"top","values":[0,100,200,300,400],"labels":false,"title":null}},
     "x2":{"field":"x1"},
     "y":{"field":"lo","type":"quantitative","scale":{"domain":[0,20],"nice":false},"axis":{"orient":"right","values":[0,10,20],"labels":false,"title":null}},
     "y2":{"field":"hi"}}},
   {"data":{"name":"statsQ"},"mark":{"type":"rule","color":"#d42a2a","strokeWidth":4.2},
    "encoding":{
     "x":{"field":"x0","type":"quantitative","scale":{"domain":[0,400],"nice":false},"axis":null},
     "x2":{"field":"x1"},
     "y":{"field":"mean","type":"quantitative","scale":{"domain":[0,20],"nice":false},"axis":null}}},
   {"mark":{"type":"rule","color":"#262626","strokeWidth":1},
    "encoding":{"x":{"datum":200,"type":"quantitative","scale":{"domain":[0,400],"nice":false},"axis":null}}},
   {"data":{"name":"labelsQ"},"mark":{"type":"text","font":"DejaVu Serif","fontWeight":"bold","fontSize":27,"align":"left","baseline":"alphabetic","color":"#111111"},
    "encoding":{
     "x":{"field":"x","type":"quantitative","scale":{"domain":[0,400],"nice":false},"axis":null},
     "y":{"field":"y","type":"quantitative","scale":{"domain":[0,20],"nice":false},"axis":null},
     "text":{"field":"text"}}},
   {"data":{"name":"tagQ"},"mark":{"type":"text","clip":false,"font":"DejaVu Serif","fontWeight":"bold","fontSize":24,"align":"left","baseline":"alphabetic","color":"#111111"},
    "encoding":{
     "x":{"field":"x","type":"quantitative","scale":{"domain":[0,400],"nice":false},"axis":null},
     "y":{"field":"y","type":"quantitative","scale":{"domain":[0,20],"nice":false},"axis":null},
     "text":{"field":"text"}}}
  ]
 }
]
}
